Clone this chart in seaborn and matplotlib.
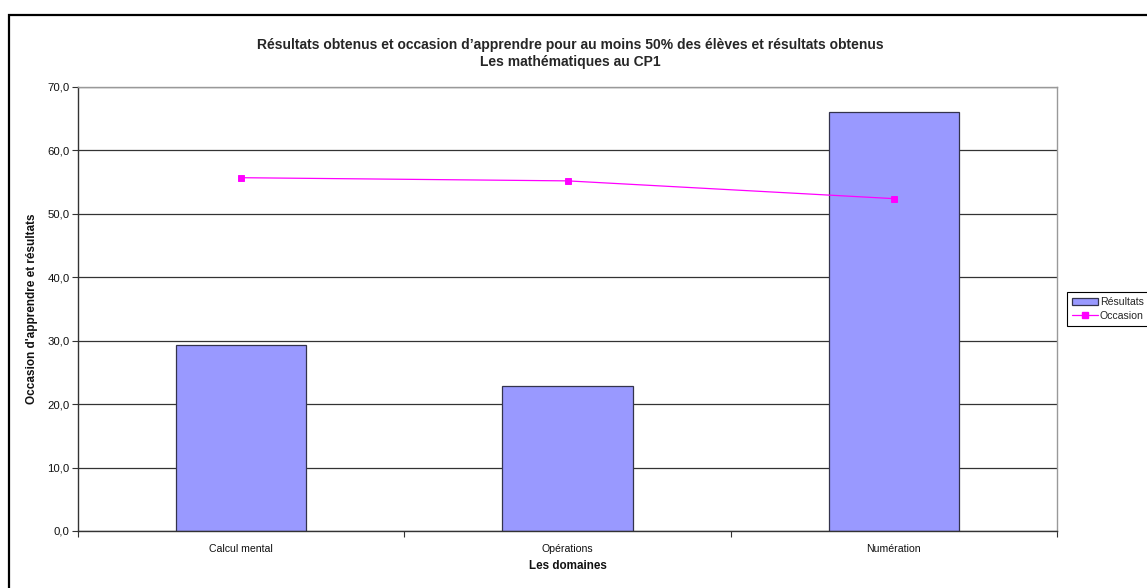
import matplotlib
matplotlib.use("Agg")
import matplotlib.pyplot as plt
import seaborn as sns
import numpy as np
import pandas as pd
from matplotlib.patches import Patch, Rectangle
from matplotlib.lines import Line2D
from matplotlib.ticker import FuncFormatter, FixedLocator

# ---- data ----
categories = ["Calcul mental", "Opérations", "Numération"]
resultats = [29.4, 22.8, 66.1]
occasion = [55.7, 55.2, 52.4]
title_lines = ["Résultats obtenus et occasion d\u2019apprendre pour au moins 50% des élèves et résultats obtenus",
               "Les mathématiques au CP1"]
y_ticks = [0, 10, 20, 30, 40, 50, 60, 70]

sns.set_theme(style="white")
plt.rcParams["font.family"] = ["Liberation Sans", "DejaVu Sans"]

df = pd.DataFrame({"cat": categories, "res": resultats, "occ": occasion})

fig = plt.figure(figsize=(11.47, 5.88), dpi=100)
fig.patch.set_facecolor("white")
ax = fig.add_axes([78/1147, 1-531/588, (1057-78)/1147, (531-87)/588])

sns.barplot(data=df, x="cat", y="res", order=categories, width=0.4,
            color="#9999FF", saturation=1, edgecolor="#33334d", linewidth=0.9, ax=ax)
sns.pointplot(data=df, x="cat", y="occ", order=categories, color="#FF00FF",
              markers="s", markersize=4, linewidth=0.9, ax=ax)

ax.set_xlim(-0.5, len(categories) - 0.5)
ax.set_ylim(0, 70)
ax.yaxis.set_major_locator(FixedLocator(y_ticks))
ax.yaxis.set_major_formatter(FuncFormatter(lambda v, p: f"{v:.1f}".replace(".", ",")))
ax.grid(axis="y", color="#333333", linewidth=0.9)
ax.set_axisbelow(True)

# x: boundary ticks as major, labels on minor
ax.set_xticks(np.arange(len(categories) + 1) - 0.5)
ax.set_xticklabels([])
ax.set_xticks(np.arange(len(categories)), minor=True)
ax.set_xticklabels(categories, minor=True, fontsize=7.6, color="#111111")
ax.tick_params(axis="x", which="major", direction="out", length=4, width=0.8, color="#333333", bottom=True)
ax.tick_params(axis="x", which="minor", length=0, pad=9)
ax.tick_params(axis="y", direction="out", length=4, width=0.8, color="#333333", left=True,
               labelsize=8.2, labelcolor="#111111", pad=2)

for s in ["left", "bottom"]:
    ax.spines[s].set_color("#333333")
    ax.spines[s].set_linewidth(1.0)
for s in ["top", "right"]:
    ax.spines[s].set_visible(True)
    ax.spines[s].set_color("#999999")
    ax.spines[s].set_linewidth(1.0)

ax.set_xlabel("Les domaines", fontsize=8.4, fontweight="bold", labelpad=5, color="#111111")
ax.set_ylabel("Occasion d'apprendre et résultats", fontsize=8.5, fontweight="bold", labelpad=7, color="#111111")

fig.text(570/1147, 1-45/588, title_lines[0], ha="center", va="center", fontsize=10, fontweight="bold")
fig.text(570/1147, 1-62/588, title_lines[1], ha="center", va="center", fontsize=10, fontweight="bold")

handles = [Patch(facecolor="#9999FF", edgecolor="#33334d", linewidth=0.9),
           Line2D([0], [0], color="#FF00FF", marker="s", markersize=4, linewidth=0.9)]
leg = fig.legend(handles, ["Résultats", "Occasion"], loc="upper left",
                 bbox_to_anchor=(1067/1147, 1-292/588), fontsize=7.6, frameon=True,
                 fancybox=False, edgecolor="#000000", framealpha=1,
                 handlelength=2.4, handletextpad=0.2, borderpad=0.5, labelspacing=0.35,
                 borderaxespad=0)
leg.get_frame().set_linewidth(0.8)

frame = Rectangle((9/1147, -0.05), 1.1, 1-15/588 + 0.05, transform=fig.transFigure,
                  fill=False, edgecolor="black", linewidth=1.6, clip_on=False)
fig.add_artist(frame)

fig.savefig("out.png", dpi=100, facecolor="white")
